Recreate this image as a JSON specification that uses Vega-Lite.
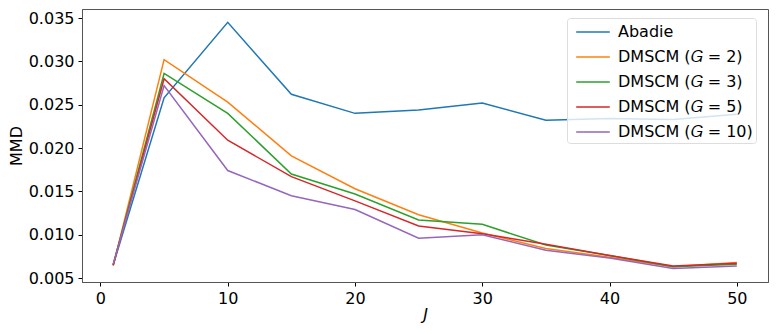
{
  "$schema": "https://vega.github.io/schema/vega-lite/v6.json",
  "autosize": {"type": "none"},
  "padding": {"left": 82, "top": 9, "right": 11, "bottom": 51},
  "width": 686,
  "height": 273,
  "background": "white",
  "config": {
    "font": "DejaVu Sans",
    "view": {"stroke": "#555", "strokeWidth": 1},
    "axis": {
      "labelFont": "DejaVu Sans", "titleFont": "DejaVu Sans",
      "labelFontSize": 16, "titleFontSize": 16, "labelColor": "#000", "titleColor": "#000",
      "titleFontWeight": "normal", "tickColor": "#000", "tickSize": 4, "domainColor": "#555",
      "grid": false
    }
  },
  "data": {"values": [
    {"J": 1, "method": "Abadie", "MMD": 0.0065},
    {"J": 5, "method": "Abadie", "MMD": 0.0258},
    {"J": 10, "method": "Abadie", "MMD": 0.0345},
    {"J": 15, "method": "Abadie", "MMD": 0.0262},
    {"J": 20, "method": "Abadie", "MMD": 0.0240},
    {"J": 25, "method": "Abadie", "MMD": 0.0244},
    {"J": 30, "method": "Abadie", "MMD": 0.0252},
    {"J": 35, "method": "Abadie", "MMD": 0.0232},
    {"J": 40, "method": "Abadie", "MMD": 0.0234},
    {"J": 45, "method": "Abadie", "MMD": 0.0233},
    {"J": 50, "method": "Abadie", "MMD": 0.0239},
    {"J": 1, "method": "DMSCM (𝐺 = 2)", "MMD": 0.0064},
    {"J": 5, "method": "DMSCM (𝐺 = 2)", "MMD": 0.0302},
    {"J": 10, "method": "DMSCM (𝐺 = 2)", "MMD": 0.0253},
    {"J": 15, "method": "DMSCM (𝐺 = 2)", "MMD": 0.0191},
    {"J": 20, "method": "DMSCM (𝐺 = 2)", "MMD": 0.0153},
    {"J": 25, "method": "DMSCM (𝐺 = 2)", "MMD": 0.0123},
    {"J": 30, "method": "DMSCM (𝐺 = 2)", "MMD": 0.0102},
    {"J": 35, "method": "DMSCM (𝐺 = 2)", "MMD": 0.0084},
    {"J": 40, "method": "DMSCM (𝐺 = 2)", "MMD": 0.0074},
    {"J": 45, "method": "DMSCM (𝐺 = 2)", "MMD": 0.0063},
    {"J": 50, "method": "DMSCM (𝐺 = 2)", "MMD": 0.0068},
    {"J": 1, "method": "DMSCM (𝐺 = 3)", "MMD": 0.0065},
    {"J": 5, "method": "DMSCM (𝐺 = 3)", "MMD": 0.0286},
    {"J": 10, "method": "DMSCM (𝐺 = 3)", "MMD": 0.0240},
    {"J": 15, "method": "DMSCM (𝐺 = 3)", "MMD": 0.0170},
    {"J": 20, "method": "DMSCM (𝐺 = 3)", "MMD": 0.0147},
    {"J": 25, "method": "DMSCM (𝐺 = 3)", "MMD": 0.0117},
    {"J": 30, "method": "DMSCM (𝐺 = 3)", "MMD": 0.0112},
    {"J": 35, "method": "DMSCM (𝐺 = 3)", "MMD": 0.0088},
    {"J": 40, "method": "DMSCM (𝐺 = 3)", "MMD": 0.0076},
    {"J": 45, "method": "DMSCM (𝐺 = 3)", "MMD": 0.0063},
    {"J": 50, "method": "DMSCM (𝐺 = 3)", "MMD": 0.0066},
    {"J": 1, "method": "DMSCM (𝐺 = 5)", "MMD": 0.0065},
    {"J": 5, "method": "DMSCM (𝐺 = 5)", "MMD": 0.0280},
    {"J": 10, "method": "DMSCM (𝐺 = 5)", "MMD": 0.0209},
    {"J": 15, "method": "DMSCM (𝐺 = 5)", "MMD": 0.0167},
    {"J": 20, "method": "DMSCM (𝐺 = 5)", "MMD": 0.0139},
    {"J": 25, "method": "DMSCM (𝐺 = 5)", "MMD": 0.0110},
    {"J": 30, "method": "DMSCM (𝐺 = 5)", "MMD": 0.0101},
    {"J": 35, "method": "DMSCM (𝐺 = 5)", "MMD": 0.0089},
    {"J": 40, "method": "DMSCM (𝐺 = 5)", "MMD": 0.0076},
    {"J": 45, "method": "DMSCM (𝐺 = 5)", "MMD": 0.0064},
    {"J": 50, "method": "DMSCM (𝐺 = 5)", "MMD": 0.0067},
    {"J": 1, "method": "DMSCM (𝐺 = 10)", "MMD": 0.0066},
    {"J": 5, "method": "DMSCM (𝐺 = 10)", "MMD": 0.0272},
    {"J": 10, "method": "DMSCM (𝐺 = 10)", "MMD": 0.0174},
    {"J": 15, "method": "DMSCM (𝐺 = 10)", "MMD": 0.0145},
    {"J": 20, "method": "DMSCM (𝐺 = 10)", "MMD": 0.0129},
    {"J": 25, "method": "DMSCM (𝐺 = 10)", "MMD": 0.0096},
    {"J": 30, "method": "DMSCM (𝐺 = 10)", "MMD": 0.0100},
    {"J": 35, "method": "DMSCM (𝐺 = 10)", "MMD": 0.0082},
    {"J": 40, "method": "DMSCM (𝐺 = 10)", "MMD": 0.0073},
    {"J": 45, "method": "DMSCM (𝐺 = 10)", "MMD": 0.0061},
    {"J": 50, "method": "DMSCM (𝐺 = 10)", "MMD": 0.0064}
  ]},
  "mark": {"type": "line", "strokeWidth": 1.5, "clip": true},
  "encoding": {
    "x": {
      "field": "J", "type": "quantitative",
      "scale": {"domain": [-1.45, 52.45], "nice": false, "zero": false},
      "axis": {"values": [0, 10, 20, 30, 40, 50], "format": "d", "title": "J", "titleFontStyle": "italic", "titlePadding": 0, "labelPadding": 4}
    },
    "y": {
      "field": "MMD", "type": "quantitative",
      "scale": {"domain": [0.00454, 0.03604], "nice": false, "zero": false},
      "axis": {"values": [0.005, 0.01, 0.015, 0.02, 0.025, 0.03, 0.035], "format": ".3f", "title": "MMD", "titlePadding": 4, "labelPadding": 4}
    },
    "color": {
      "field": "method", "type": "nominal",
      "scale": {
        "domain": ["Abadie", "DMSCM (𝐺 = 2)", "DMSCM (𝐺 = 3)", "DMSCM (𝐺 = 5)", "DMSCM (𝐺 = 10)"],
        "range": ["#1f77b4", "#ff7f0e", "#2ca02c", "#d62728", "#9467bd"]
      },
      "legend": {
        "title": null, "orient": "none", "legendX": 485, "legendY": 9,
        "labelFontSize": 16, "labelFont": "DejaVu Sans", "labelColor": "#000",
        "symbolType": "M-1.6,0H1.6", "symbolSize": 441, "symbolStrokeWidth": 1.5,
        "symbolFillColor": "transparent", "symbolOffset": 12,
        "labelOffset": 13.5, "rowPadding": 5, "padding": 2.5,
        "fillColor": "rgba(255,255,255,0.8)", "strokeColor": "#ddd", "cornerRadius": 3,
        "labelLimit": 300
      }
    }
  }
}
